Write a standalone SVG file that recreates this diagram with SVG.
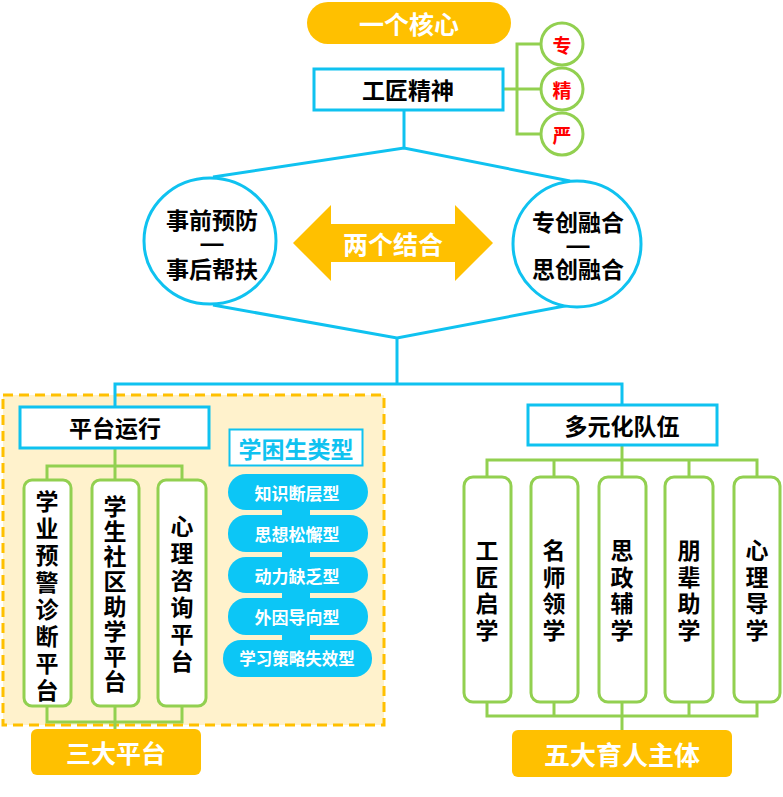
<svg xmlns="http://www.w3.org/2000/svg" width="783" height="797" viewBox="0 0 783 797">
<style>
text{font-family:"Noto Sans CJK SC","Noto Sans",sans-serif;font-weight:700;text-anchor:middle;dominant-baseline:central}
.dash{font-family:"Liberation Sans",sans-serif}
.blk{fill:#000}
.wht{fill:#fff}
.cy{fill:none;stroke:#0FC2F0;stroke-width:3}
.gl{fill:none;stroke:#92D050;stroke-width:3}
.gbox{fill:#fff;stroke:#92D050;stroke-width:3}
.cbox{fill:#fff;stroke:#0FC2F0;stroke-width:3}
.org{fill:#FFC000}
.pill{fill:#0CC6F6}
</style>
<rect x="0" y="0" width="783" height="797" fill="#fff"/>
<g id="region-platform">
<rect x="3" y="395" width="381" height="330" fill="#FFF2CC" stroke="#FFC000" stroke-width="3" stroke-dasharray="10,6"/>
</g>
<g id="connectors">
<polyline class="cy" points="404,110 404,148"/>
<polyline class="cy" points="213,177 404,148 570,181"/>
<polyline class="cy" points="213,305 397,338 570,305"/>
<polyline class="cy" points="397,338 397,384"/>
<polyline class="cy" points="115,407 115,384 622,384 622,405"/>
<polyline class="gl" points="503,89 541,89"/>
<polyline class="gl" points="541,44 517,44 517,134 541,134"/>
<polyline class="gl" points="115,448 115,466"/>
<polyline class="gl" points="47,480 47,466 182,466 182,480"/>
<polyline class="gl" points="115,466 115,480"/>
<polyline class="gl" points="47,706 47,722 182,722 182,706"/>
<polyline class="gl" points="115,706 115,730"/>
<polyline class="gl" points="622,445 622,477"/>
<polyline class="gl" points="487,477 487,460 757,460 757,477"/>
<polyline class="gl" points="554,460 554,477"/>
<polyline class="gl" points="689,460 689,477"/>
<polyline class="gl" points="487,702 487,716 757,716 757,702"/>
<polyline class="gl" points="554,702 554,716"/>
<polyline class="gl" points="689,702 689,716"/>
<polyline class="gl" points="622,702 622,730"/>
<rect class="pill" x="282" y="505" width="28" height="160"/>
</g>
<g id="core">
<rect class="org" x="307" y="2" width="204" height="42" rx="21"/>
<text class="wht" x="409" y="23" font-size="25">一个核心</text>
</g>
<g id="craftsman">
<rect class="cbox" x="314" y="69" width="189" height="41"/>
<text class="blk" x="408" y="89" font-size="23">工匠精神</text>
</g>
<g id="zhuan">
<circle cx="562" cy="44" r="21" class="gbox"/>
<text x="562" y="44" font-size="19" fill="#FF0000">专</text>
</g>
<g id="jing">
<circle cx="562" cy="89" r="21" class="gbox"/>
<text x="562" y="89" font-size="19" fill="#FF0000">精</text>
</g>
<g id="yan">
<circle cx="562" cy="134" r="21" class="gbox"/>
<text x="562" y="134" font-size="19" fill="#FF0000">严</text>
</g>
<g id="left-circle">
<ellipse class="cbox" cx="210" cy="241" rx="66" ry="63"/>
<text class="blk" x="212" y="219" font-size="23">事前预防</text>
<text class="blk dash" x="212" y="243" font-size="23">—</text>
<text class="blk" x="212" y="268" font-size="23">事后帮扶</text>
</g>
<g id="right-circle">
<ellipse class="cbox" cx="577" cy="244" rx="64" ry="63"/>
<text class="blk" x="578" y="221" font-size="23">专创融合</text>
<text class="blk dash" x="578" y="245" font-size="23">—</text>
<text class="blk" x="578" y="268" font-size="23">思创融合</text>
</g>
<g id="two-combine">
<polygon class="org" points="293,243 331,205 331,224 455,224 455,205 493,243 455,281 455,262 331,262 331,281"/>
<text class="wht" x="393" y="243" font-size="25">两个结合</text>
</g>
<g id="platform-run">
<rect class="cbox" x="20" y="407" width="189" height="41"/>
<text class="blk" x="115" y="427" font-size="23">平台运行</text>
</g>
<g id="p1">
<rect class="gbox" x="24" y="480" width="47" height="226" rx="8"/>
<text class="blk" font-size="23"><tspan x="47" y="500">学</tspan><tspan x="47" dy="27">业</tspan><tspan x="47" dy="27">预</tspan><tspan x="47" dy="27">警</tspan><tspan x="47" dy="27">诊</tspan><tspan x="47" dy="27">断</tspan><tspan x="47" dy="27">平</tspan><tspan x="47" dy="27">台</tspan></text>
</g>
<g id="p2">
<rect class="gbox" x="92" y="480" width="47" height="226" rx="8"/>
<text class="blk" font-size="23"><tspan x="115" y="505">学</tspan><tspan x="115" dy="25">生</tspan><tspan x="115" dy="25">社</tspan><tspan x="115" dy="25">区</tspan><tspan x="115" dy="25">助</tspan><tspan x="115" dy="25">学</tspan><tspan x="115" dy="25">平</tspan><tspan x="115" dy="25">台</tspan></text>
</g>
<g id="p3">
<rect class="gbox" x="158" y="480" width="48" height="226" rx="8"/>
<text class="blk" font-size="23"><tspan x="182" y="525">心</tspan><tspan x="182" dy="27">理</tspan><tspan x="182" dy="27">咨</tspan><tspan x="182" dy="27">询</tspan><tspan x="182" dy="27">平</tspan><tspan x="182" dy="27">台</tspan></text>
</g>
<g id="three-platforms">
<rect class="org" x="31" y="729" width="170" height="46" rx="6"/>
<text class="wht" x="116" y="752" font-size="25">三大平台</text>
</g>
<g id="types-title">
<rect x="229.500" y="429.500" width="133" height="36" fill="#fff" stroke="#0FC2F0" stroke-width="2"/>
<text x="296" y="448" font-size="23" fill="#0FC2F0">学困生类型</text>
</g>
<g id="t1">
<rect class="pill" x="228" y="474" width="140" height="36" rx="18"/>
<text class="wht" x="297" y="492" font-size="17">知识断层型</text>
</g>
<g id="t2">
<rect class="pill" x="228" y="515" width="140" height="37" rx="18"/>
<text class="wht" x="297" y="533" font-size="17">思想松懈型</text>
</g>
<g id="t3">
<rect class="pill" x="228" y="557" width="140" height="36" rx="18"/>
<text class="wht" x="297" y="575" font-size="17">动力缺乏型</text>
</g>
<g id="t4">
<rect class="pill" x="228" y="598" width="140" height="37" rx="18"/>
<text class="wht" x="297" y="616" font-size="17">外因导向型</text>
</g>
<g id="t5">
<rect class="pill" x="223" y="640" width="149" height="37" rx="18"/>
<text class="wht" x="297" y="658" font-size="16.500">学习策略失效型</text>
</g>
<g id="team">
<rect class="cbox" x="528" y="405" width="189" height="40"/>
<text class="blk" x="622" y="425" font-size="23">多元化队伍</text>
</g>
<g id="s1">
<rect class="gbox" x="464" y="477" width="47" height="225" rx="9"/>
<text class="blk" font-size="23"><tspan x="487" y="549">工</tspan><tspan x="487" dy="26.500">匠</tspan><tspan x="487" dy="26.500">启</tspan><tspan x="487" dy="26.500">学</tspan></text>
</g>
<g id="s2">
<rect class="gbox" x="531" y="477" width="47" height="225" rx="9"/>
<text class="blk" font-size="23"><tspan x="554" y="549">名</tspan><tspan x="554" dy="26.500">师</tspan><tspan x="554" dy="26.500">领</tspan><tspan x="554" dy="26.500">学</tspan></text>
</g>
<g id="s3">
<rect class="gbox" x="599" y="477" width="47" height="225" rx="9"/>
<text class="blk" font-size="23"><tspan x="622" y="549">思</tspan><tspan x="622" dy="26.500">政</tspan><tspan x="622" dy="26.500">辅</tspan><tspan x="622" dy="26.500">学</tspan></text>
</g>
<g id="s4">
<rect class="gbox" x="665" y="477" width="48" height="225" rx="9"/>
<text class="blk" font-size="23"><tspan x="689" y="549">朋</tspan><tspan x="689" dy="26.500">辈</tspan><tspan x="689" dy="26.500">助</tspan><tspan x="689" dy="26.500">学</tspan></text>
</g>
<g id="s5">
<rect class="gbox" x="734" y="477" width="46" height="225" rx="9"/>
<text class="blk" font-size="23"><tspan x="757" y="549">心</tspan><tspan x="757" dy="26.500">理</tspan><tspan x="757" dy="26.500">导</tspan><tspan x="757" dy="26.500">学</tspan></text>
</g>
<g id="five-subjects">
<rect class="org" x="512" y="730" width="220" height="47" rx="6"/>
<text class="wht" x="622" y="753" font-size="26">五大育人主体</text>
</g>
</svg>
